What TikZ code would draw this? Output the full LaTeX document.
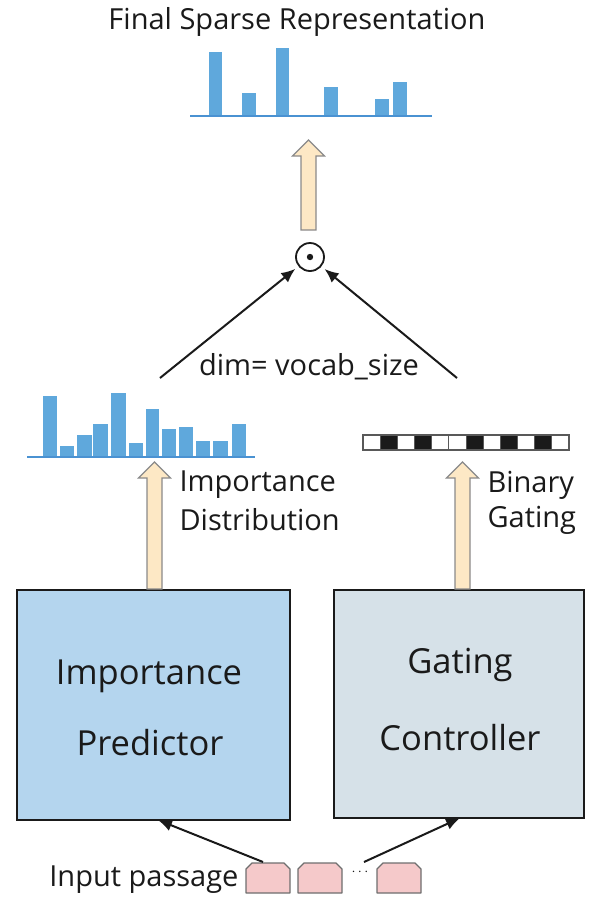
\documentclass[tikz,border=0pt]{standalone}
\usepackage{fontspec}
\setmainfont{Open Sans}
\usetikzlibrary{arrows.meta}
\definecolor{barblue}{HTML}{5FA8DC}
\definecolor{baseblue}{HTML}{4A92D2}
\definecolor{predfill}{HTML}{B4D5EE}
\definecolor{ctrlfill}{HTML}{D6E1E8}
\definecolor{flowfill}{HTML}{FDE8C5}
\definecolor{flowline}{HTML}{8A8A8A}
\definecolor{tokfill}{HTML}{F5C9CA}
\definecolor{tokline}{HTML}{6E6E6E}
\definecolor{ink}{HTML}{1A1A1A}
\newcommand\blockup[3]{% x, bottom y, tip y
  \draw[flowline,fill=flowfill,line width=1.2pt,line join=miter]
    (#1-7.5,#2) -- (#1-7.5,#3+16) -- (#1-16,#3+16) -- (#1,#3)
    -- (#1+16,#3+16) -- (#1+7.5,#3+16) -- (#1+7.5,#2) -- cycle;}
\newcommand\histbar[3]{% left x, right x, top y ; base y in \barbase
  \fill[barblue] (#1,#3) rectangle (#2,\barbase);}
\tikzset{
  bigtxt/.style={font=\fontsize{34.5}{44}\selectfont, text=ink, align=center},
  midtxt/.style={font=\fontsize{29}{35}\selectfont, text=ink},
  unitbox/.style={draw=ink, line width=1.6pt, inner sep=0pt},
  link/.style={draw=ink, line width=2pt, -{Latex[length=14pt,width=12pt]}},
  token/.style={draw=tokline, fill=tokfill, line width=1.3pt, line join=round},
}
\begin{document}
\begin{tikzpicture}[x=1pt,y=-1pt]
\useasboundingbox (0,0) rectangle (589,898);

% ---------- output vector ----------
\node[midtxt] (title) at (297,22) {Final Sparse Representation};
\def\barbase{116}
\histbar{209}{222}{52}
\histbar{242}{256}{93}
\histbar{276}{289}{48}
\histbar{324}{338}{87}
\histbar{375}{389}{99}
\histbar{393}{407}{82}
\draw[baseblue,line width=1.5pt] (190,116) -- (432,116);

\blockup{308.5}{230}{140}

% ---------- elementwise product ----------
\node[circle, draw=ink, line width=1.8pt, minimum size=28pt, inner sep=0pt] (prod) at (310,257) {};
\fill[ink] (prod.center) circle (3.2pt);

\coordinate (lsrc) at (160,378);
\coordinate (rsrc) at (457,378);
\draw[link, shorten >=4pt] (lsrc) -- (prod);
\draw[link, shorten >=4pt] (rsrc) -- (prod);
\node[midtxt] (dim) at (309,367) {dim= vocab\_size};

% ---------- importance distribution ----------
\def\barbase{457}
\histbar{43}{57}{396}
\histbar{60}{74}{446}
\histbar{77}{92}{435}
\histbar{93}{108}{424}
\histbar{111}{126}{393}
\histbar{129}{143}{443}
\histbar{146}{159}{409}
\histbar{162}{176}{429}
\histbar{179}{193}{427}
\histbar{196}{210}{441}
\histbar{213}{228}{441}
\histbar{232}{246}{424}
\draw[baseblue,line width=1.5pt] (27,457) -- (255,457);

% ---------- binary gating ----------
\foreach \k/\v in {0/0,1/1,2/0,3/1,4/0,5/0,6/1,7/0,8/1,9/0,10/1,11/0}{
  \ifnum\v=1
    \fill[ink] ({363+\k*17.17},435) rectangle ({363+(\k+1)*17.17},450);
  \fi
  \draw[gray!70!black,line width=1pt] ({363+\k*17.17},435) rectangle ({363+(\k+1)*17.17},450);
}
\draw[gray!70!black,line width=1.2pt] (363,435) rectangle (569,450);

% ---------- modules ----------
\node[unitbox, fill=predfill, minimum width=273pt, minimum height=230pt] (pred) at (153.5,705) {};
\node[bigtxt] at (149,676) {Importance};
\node[bigtxt] at (150,743) {Predictor};
\node[unitbox, fill=ctrlfill, minimum width=250pt, minimum height=228pt] (ctrl) at (459,704) {};
\node[bigtxt] at (460,665) {Gating};
\node[bigtxt] at (460,738) {Controller};

\blockup{154.5}{589}{462}
\blockup{462.5}{589}{462}
\node[midtxt, anchor=west] at (176,485) {Importance};
\node[midtxt, anchor=west] at (176,520) {Distribution};
\node[midtxt, anchor=west] at (484,485) {Binary};
\node[midtxt, anchor=west] at (484,520) {Gating};

% ---------- input passage ----------
\node[midtxt, anchor=east] (inp) at (242,880) {Input passage};
\foreach \n/\a/\b in {t1/246/290, t2/298/342, t3/377/421}{
  \draw[token] (\a,893) -- (\a,869) -- (\a+6,863) -- (\b-6,863) -- (\b,869) -- (\b,893) -- cycle;
  \coordinate (\n) at ({(\a+\b)/2},878);
}
\node[font=\fontsize{14}{16}\selectfont, text=ink] (dots) at (360,872) {$\cdots$};

\coordinate (isrc) at (263,862);
\coordinate (gsrc) at (364,862);
\draw[link] (isrc) -- (158,820);
\draw[link] (gsrc) -- (460,818);
\end{tikzpicture}
\end{document}
